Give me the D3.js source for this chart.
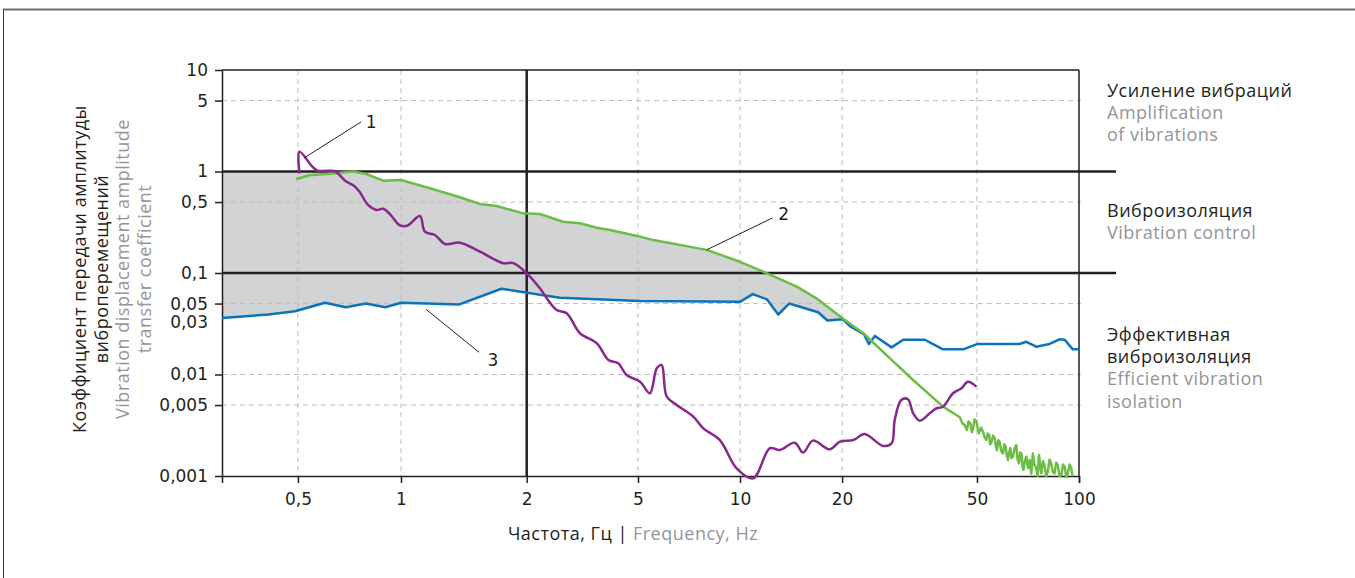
<!DOCTYPE html>
<html>
<head>
<meta charset="utf-8">
<script src="https://cdn.jsdelivr.net/npm/d3@7"></script>
<style>
  body { margin: 0; background: #fff; }
  svg text { font-family: "Open Sans", sans-serif; }
  .label { font-size: 18px; letter-spacing: 0.5px; }
  .axis .tick text { font-family: "DejaVu Sans", sans-serif; font-size: 17px; fill: #231f20; letter-spacing: 0; }
</style>
</head>
<body>
<div class="chart"></div>
<script>
// Data: [frequency Hz, transfer coefficient]

// curve 1 (purple)
var curve1 = [[0.505, 0.96], [0.505, 1.567], [0.551, 1.115], [0.570, 1.018], [0.639, 1.011], [0.661, 0.924],
  [0.69, 0.80], [0.73, 0.72], [0.757, 0.632], [0.801, 0.468], [0.848, 0.418], [0.887, 0.43], [0.935, 0.37],
  [0.990, 0.297], [1.035, 0.292], [1.110, 0.364], [1.141, 0.255], [1.206, 0.237], [1.275, 0.193],
  [1.384, 0.199], [1.546, 0.162], [1.758, 0.125], [1.857, 0.125], [2.0, 0.0993], [2.23, 0.0707],
  [2.36, 0.0563], [2.56, 0.0432], [2.78, 0.0401], [3.10, 0.0255], [3.56, 0.0203], [3.92, 0.0139],
  [4.25, 0.0129], [4.55, 0.00989], [5.07, 0.00849], [5.42, 0.00653], [5.68, 0.0115], [5.87, 0.0124],
  [6.08, 0.00604], [6.50, 0.00501], [7.28, 0.00384], [7.79, 0.00295], [8.72, 0.00226], [9.77, 0.00119],
  [10.93, 0.000949], [12.25, 0.00188], [13.1, 0.00180], [14.5, 0.00213], [15.35, 0.00170], [16.4, 0.00223],
  [18.4, 0.00183], [19.7, 0.00218], [21.6, 0.00226], [23.3, 0.00259], [26.4, 0.00198], [28.0, 0.00210],
  [28.6, 0.00356], [29.9, 0.00561], [31.3, 0.00570], [32.4, 0.00415], [33.9, 0.00351], [36.3, 0.00415],
  [38.0, 0.00465], [39.7, 0.00482], [42.5, 0.00653], [45.0, 0.00731], [47.0, 0.00849], [49.8, 0.00759]];

// curve 2 (green), smooth part then the noisy tail
var curve2 = [[0.494, 0.844], [0.54, 0.92], [0.646, 0.96], [0.723, 1.0], [0.792, 0.945], [0.887, 0.812],
  [1.0, 0.825], [1.195, 0.668], [1.384, 0.557], [1.546, 0.478], [1.695, 0.457], [1.963, 0.387], [2.23, 0.381],
  [2.70, 0.320], [3.10, 0.309], [3.56, 0.279], [3.97, 0.265], [4.97, 0.232], [5.55, 0.211], [7.97, 0.169],
  [10.0, 0.129], [11.7, 0.103], [14.7, 0.0733], [16.8, 0.0563], [20.1, 0.0356], [23.1, 0.0255], [27.0, 0.0156],
  [32.4, 0.00883], [39.7, 0.00482], [44.5, 0.00379],
  [45.3, 0.00330], [46.0, 0.00318], [46.7, 0.00284], [47.2, 0.00345], [47.8, 0.00330], [48.3, 0.00270],
  [48.7, 0.00295], [49.2, 0.00360], [49.8, 0.00348], [50.3, 0.00290], [50.7, 0.00264], [51.4, 0.00300],
  [52.1, 0.00273], [52.7, 0.00240], [53.3, 0.00226], [53.8, 0.00262], [54.3, 0.00254], [54.7, 0.00205],
  [55.1, 0.00213], [55.8, 0.00250], [56.4, 0.00235], [56.9, 0.00195], [57.3, 0.00180], [57.8, 0.00225],
  [58.3, 0.00218], [59.0, 0.00175], [59.7, 0.00167], [60.2, 0.00205], [60.8, 0.00194], [61.2, 0.00160],
  [61.7, 0.00144], [62.2, 0.00170], [62.7, 0.00188], [63.2, 0.00150], [63.8, 0.00155], [64.5, 0.00185],
  [65.3, 0.00202], [65.9, 0.00145], [66.5, 0.00133], [67.0, 0.00170], [67.6, 0.00167], [68.1, 0.00125],
  [68.6, 0.00115], [69.2, 0.00140], [69.9, 0.00155], [70.7, 0.00120], [71.5, 0.00144], [72.3, 0.00105],
  [73.1, 0.00167], [73.9, 0.00130], [74.8, 0.00119], [75.5, 0.00100], [76.2, 0.00161], [76.8, 0.00128],
  [77.4, 0.00106], [78.3, 0.00140], [79.2, 0.00124], [80.0, 0.00100], [80.9, 0.00110], [81.9, 0.00145],
  [82.8, 0.00133], [83.7, 0.00110], [84.7, 0.00106], [85.6, 0.00135], [86.6, 0.00128], [87.6, 0.00100],
  [88.7, 0.00102], [89.7, 0.00130], [90.7, 0.00124], [91.7, 0.00098], [92.7, 0.00106], [93.8, 0.00130],
  [94.9, 0.00119], [95.5, 0.00104], [96.0, 0.00102]];

// curve 3 (blue)
var curve3 = [[0.3, 0.036], [0.41, 0.039], [0.49, 0.042], [0.6, 0.051], [0.69, 0.046], [0.79, 0.050],
  [0.9, 0.046], [1.0, 0.051], [1.38, 0.049], [1.74, 0.070], [2.23, 0.061], [2.63, 0.057], [5.07, 0.053],
  [10.0, 0.052], [10.9, 0.062], [12.0, 0.055], [12.96, 0.039], [13.96, 0.050], [17.0, 0.041], [18.1, 0.034],
  [20.1, 0.035], [21.1, 0.030], [23.2, 0.025], [24.0, 0.020], [25.0, 0.024], [28.0, 0.0185], [30.3, 0.022],
  [35.1, 0.022], [39.7, 0.0177], [45.5, 0.0177], [50.3, 0.020], [66.8, 0.020], [69.9, 0.021], [74.8, 0.0188],
  [81.9, 0.020], [87.6, 0.0222], [90.7, 0.022], [95.9, 0.0177], [100, 0.0177]];

// upper edge of the grey band before curve 2 takes over
var bandCap = [[0.3, 1], [0.494, 1], [0.723, 1]];
var bandEnd = 20.1;

// axes
var xTicks = [0.5, 1, 2, 5, 10, 20, 50, 100];
var xBreaks = [0.3, 1, 2, 5, 100];
var yTicks = [10, 5, 1, 0.5, 0.1, 0.05, 0.01, 0.005, 0.001];
var yExtraLabels = [0.03];
var xGrid = [0.5, 1, 5, 10, 20, 50];
var yGrid = [5, 0.5, 0.05, 0.01, 0.005];
var zoneLines = [1, 0.1];
var markerFreq = [2];

// callouts
var calloutLabels = ["1", "2", "3"];
var calloutAnchors = [[0.521, 1.36], [7.97, 0.169], [1.148, 0.0439]];

// Step 1: Set up chart
var svgWidth = 1355;
var svgHeight = 578;

var margin = { top: 70, left: 222 };
var width = 857;
var height = 406;

var ink = "#231f20";
var greyText = "#939598";

var svg = d3.select(".chart")
  .append("svg")
  .attr("width", svgWidth)
  .attr("height", svgHeight);

// page frame
svg.append("line")
  .attr("x1", 3).attr("x2", svgWidth).attr("y1", 9.5).attr("y2", 9.5)
  .attr("stroke", "#6d6e70").attr("stroke-width", 2);
svg.append("line")
  .attr("x1", 3.5).attr("x2", 3.5).attr("y1", 9).attr("y2", svgHeight)
  .attr("stroke", "#414042").attr("stroke-width", 1);

var chartGroup = svg.append("g")
  .attr("transform", `translate(${margin.left}, ${margin.top})`);

// Step 2: scales (x is piecewise log, the "2" tick sits off the true log spot)
var xScale = d3.scaleLog()
  .domain(xBreaks)
  .range([0, 179, 304.7, 416, width]);

var yScale = d3.scaleLog()
  .domain([0.001, 10])
  .range([height, 0]);

var fmt = d => String(d).replace(".", ",");

// Step 3: grey band between curve 2 and curve 3
var bandTop = bandCap.concat(curve2.filter(d => d[0] > 0.723 && d[0] <= bandEnd));
var bandBottom = curve3.filter(d => d[0] <= bandEnd).slice().reverse();

var lineGen = d3.line()
  .x(d => xScale(d[0]))
  .y(d => yScale(d[1]));

chartGroup.append("path")
  .attr("d", lineGen(bandTop.concat(bandBottom)) + "Z")
  .attr("fill", "#d1d3d4")
  .attr("stroke", "none");

// Step 4: dashed grid
chartGroup.selectAll(".vgrid")
  .data(xGrid)
  .enter()
  .append("line")
  .attr("x1", d => xScale(d)).attr("x2", d => xScale(d))
  .attr("y1", 0).attr("y2", height)
  .attr("stroke", "#bcbec0")
  .attr("stroke-dasharray", "5,4");

chartGroup.selectAll(".hgrid")
  .data(yGrid)
  .enter()
  .append("line")
  .attr("x1", 0).attr("x2", width + 2)
  .attr("y1", d => yScale(d)).attr("y2", d => yScale(d))
  .attr("stroke", "#bcbec0")
  .attr("stroke-dasharray", "5,4");

// Step 5: axes
var bottomAxis = d3.axisBottom(xScale)
  .tickValues(xTicks)
  .tickFormat(fmt)
  .tickSize(7)
  .tickSizeOuter(7)
  .tickPadding(10);

var leftAxis = d3.axisLeft(yScale)
  .tickValues(yTicks)
  .tickFormat(fmt)
  .tickSize(7)
  .tickSizeOuter(0)
  .tickPadding(7);

var xAxis = chartGroup.append("g")
  .attr("class", "axis")
  .attr("transform", `translate(0, ${height})`)
  .call(bottomAxis);

var yAxis = chartGroup.append("g")
  .attr("class", "axis")
  .call(leftAxis);

chartGroup.selectAll(".axis path, .axis line")
  .attr("stroke", ink)
  .attr("stroke-width", 1.5);

// 0,03 label has no tick of its own
yAxis.selectAll(".extra")
  .data(yExtraLabels)
  .enter()
  .append("text")
  .attr("x", -14)
  .attr("y", d => yScale(d) - 4)
  .attr("dy", "0.32em")
  .attr("text-anchor", "end")
  .style("font-family", "DejaVu Sans")
  .style("font-size", "17px")
  .attr("fill", ink)
  .text(fmt);

// top and right edges of the plot
chartGroup.append("line")
  .attr("x1", 0).attr("x2", width).attr("y1", 0).attr("y2", 0)
  .attr("stroke", ink).attr("stroke-width", 1.5);
chartGroup.append("line")
  .attr("x1", width).attr("x2", width).attr("y1", 0).attr("y2", height)
  .attr("stroke", ink).attr("stroke-width", 1.5);

// zone borders at 1 and 0,1, marker at 2 Hz
chartGroup.selectAll(".zone")
  .data(zoneLines)
  .enter()
  .append("line")
  .attr("x1", 0).attr("x2", width + 37)
  .attr("y1", d => yScale(d)).attr("y2", d => yScale(d))
  .attr("stroke", ink).attr("stroke-width", 2.5);

chartGroup.selectAll(".marker")
  .data(markerFreq)
  .enter()
  .append("line")
  .attr("x1", d => xScale(d)).attr("x2", d => xScale(d))
  .attr("y1", 0).attr("y2", height)
  .attr("stroke", ink).attr("stroke-width", 2.5);

// Step 6: curves
chartGroup.append("path")
  .datum(curve3)
  .attr("d", lineGen)
  .attr("fill", "none")
  .attr("stroke", "#0a73bb")
  .attr("stroke-width", 2.5)
  .attr("stroke-linejoin", "round");

chartGroup.append("path")
  .datum(curve2)
  .attr("d", lineGen)
  .attr("fill", "none")
  .attr("stroke", "#6cbd45")
  .attr("stroke-width", 2.5)
  .attr("stroke-linejoin", "round");

var smoothLine = d3.line()
  .x(d => xScale(d[0]))
  .y(d => yScale(d[1]))
  .curve(d3.curveCatmullRom.alpha(0.5));

chartGroup.append("path")
  .datum(curve1)
  .attr("d", smoothLine)
  .attr("fill", "none")
  .attr("stroke", "#88288d")
  .attr("stroke-width", 2.5)
  .attr("stroke-linejoin", "round");

// Step 7: callouts 1, 2, 3
var calloutEnds = [[57, -36], [66, -32], [53, 43]];
var calloutText = [[10, 6], [11, 2], [14, 14]];

calloutAnchors.forEach(function(a, i) {
  var ax = xScale(a[0]);
  var ay = yScale(a[1]);
  var ex = ax + calloutEnds[i][0];
  var ey = ay + calloutEnds[i][1];
  chartGroup.append("line")
    .attr("x1", ax).attr("y1", ay).attr("x2", ex).attr("y2", ey)
    .attr("stroke", ink).attr("stroke-width", 1);
  chartGroup.append("text")
    .attr("x", ex + calloutText[i][0])
    .attr("y", ey + calloutText[i][1])
    .attr("text-anchor", "middle")
    .style("font-family", "DejaVu Sans")
    .style("font-size", "17px")
    .attr("fill", ink)
    .text(calloutLabels[i]);
});

// Step 8: titles
var xTitle = svg.append("text")
  .attr("class", "label")
  .attr("x", 633)
  .attr("y", 540)
  .attr("text-anchor", "middle");
xTitle.append("tspan").attr("fill", ink).text("Частота, Гц | ");
xTitle.append("tspan").attr("fill", greyText).text("Frequency, Hz");

var yTitleLines = [
  ["Коэффициент передачи амплитуды", ink],
  ["виброперемещений", ink],
  ["Vibration displacement amplitude", greyText],
  ["transfer coefficient", greyText]
];
svg.selectAll(".ytitle")
  .data(yTitleLines)
  .enter()
  .append("text")
  .attr("class", "label")
  .attr("transform", (d, i) => `translate(${86 + i * 21.7}, 269) rotate(-90)`)
  .attr("text-anchor", "middle")
  .attr("fill", d => d[1])
  .text(d => d[0]);

// Step 9: zone notes on the right
var zoneNotes = [
  ["Усиление вибраций", ink, 97],
  ["Amplification", greyText, 119],
  ["of vibrations", greyText, 141],
  ["Виброизоляция", ink, 217],
  ["Vibration control", greyText, 239],
  ["Эффективная", ink, 341],
  ["виброизоляция", ink, 363],
  ["Efficient vibration", greyText, 385],
  ["isolation", greyText, 408]
];
svg.selectAll(".note")
  .data(zoneNotes)
  .enter()
  .append("text")
  .attr("class", "label")
  .attr("x", 1107)
  .attr("y", d => d[2])
  .attr("fill", d => d[1])
  .text(d => d[0]);
</script>
</body>
</html>
